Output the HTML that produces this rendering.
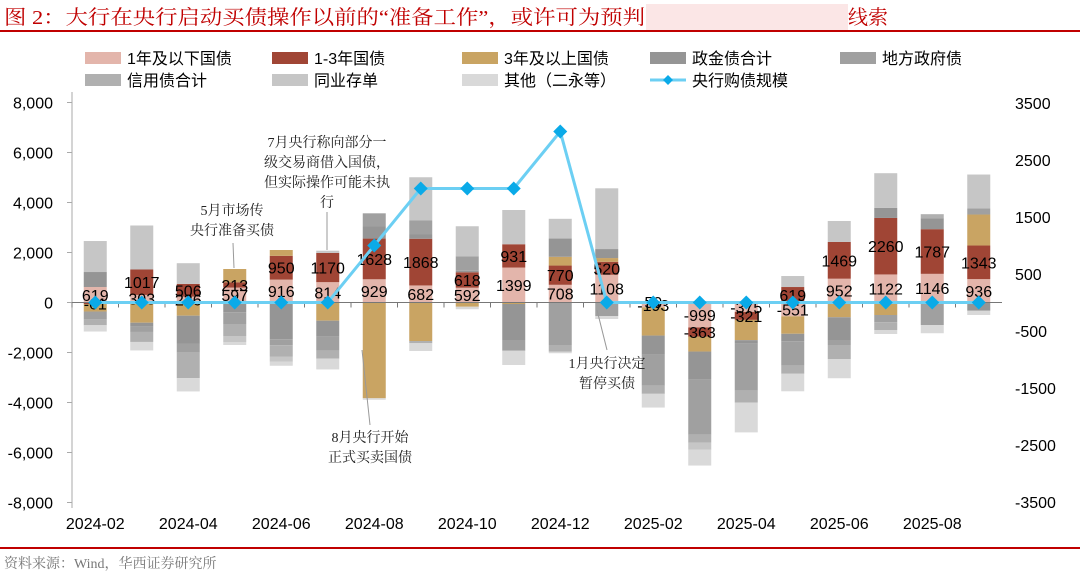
<!DOCTYPE html>
<html><head><meta charset="utf-8"><style>
body{margin:0;background:#fff;}
svg text{font-family:"Liberation Sans","Noto Sans CJK SC",sans-serif;}
.cn{font-family:"Liberation Serif","Noto Serif CJK SC",serif;}
</style></head><body>
<svg id="chart" width="1080" height="577" viewBox="0 0 1080 577" xmlns="http://www.w3.org/2000/svg">
<text x="4" y="24" fill="#c00000" font-size="20" class="cn" textLength="641" lengthAdjust="spacingAndGlyphs">图 2：大行在央行启动买债操作以前的“准备工作”，或许可为预判</text>
<rect x="646" y="4" width="202" height="26" fill="#fbe6e6"/>
<text x="848" y="24" fill="#c00000" font-size="20" class="cn">线索</text>
<line x1="0" y1="31" x2="1080" y2="31" stroke="#c00000" stroke-width="2"/>
<line x1="0" y1="548" x2="1080" y2="548" stroke="#c00000" stroke-width="2"/>
<text x="4" y="568" fill="#777" font-size="14" class="cn">资料来源：Wind，华西证券研究所</text>
<g id="legend"></g>
<g id="plot"></g>
<g id="ann"></g>
</svg>
<script>
const categories=["2024-02","2024-03","2024-04","2024-05","2024-06","2024-07","2024-08","2024-09","2024-10","2024-11","2024-12","2025-01","2025-02","2025-03","2025-04","2025-05","2025-06","2025-07","2025-08","2025-09"];
const tickLabels=["2024-02","2024-04","2024-06","2024-08","2024-10","2024-12","2025-02","2025-04","2025-06","2025-08"];
const leftTicks=[8000,6000,4000,2000,0,-2000,-4000,-6000,-8000];
const rightTicks=[3500,2500,1500,500,-500,-1500,-2500,-3500];
const seriesNames=["1年及以下国债","1-3年国债","3年及以上国债","政金债合计","地方政府债","信用债合计","同业存单","其他（二永等）"];
const s1=[619,303,236,597,916,814,929,682,592,1399,708,1108,-193,-999,-375,-551,952,1122,1146,936];
const s2=[-61,1017,506,213,950,1170,1628,1868,618,931,770,520,50,-363,-321,619,1469,2260,1787,1343];
const s3=[-300,-808,-527,530,234,-727,-3830,-1540,-170,-60,350,150,-1130,-600,-810,-700,-590,-500,0,1240];
const s4=[600,-160,-1130,-390,-1470,-640,500,170,60,-1440,730,360,-770,-1100,-130,-300,-910,400,440,-330];
const s5=[-300,-210,-350,-470,-240,-550,510,560,580,-430,-1700,-540,-1240,-2230,-1890,-980,-200,-290,-900,240];
const s6=[-250,-400,-1020,-480,-450,-330,0,-90,0,0,-270,0,-320,-310,-480,-320,-560,-310,160,0];
const s7=[1240,1760,830,-240,-200,88,0,1730,1200,1370,790,2430,0,-290,0,440,840,1390,0,1360];
const s8=[-250,-340,-530,-120,-170,-430,-60,-310,-100,-570,-60,-120,-550,-630,-1190,-700,-770,-160,-330,-170];
const pbocBuy=[0,0,0,0,0,0,1000,2000,2000,2000,3000,0,0,0,0,0,0,0,0,0];
const NS="http://www.w3.org/2000/svg";
const colors=["#e3b5ab","#a04535","#c9a463","#959595","#a0a0a0","#b0b0b0","#c6c6c6","#d9d9d9"];
const series=[s1,s2,s3,s4,s5,s6,s7,s8];
const X0=72,X1=1002,Y0=302.5;
const bw=(X1-X0)/categories.length;
const xC=i=>X0+bw*(i+0.5);
const yL=v=>Y0-v*25/1000;
const yR=v=>Y0-v*57/1000;
function mk(tag,attrs,parent){const e=document.createElementNS(NS,tag);for(const k in attrs)e.setAttribute(k,attrs[k]);parent.appendChild(e);return e;}
const plot=document.getElementById('plot');
let ax=mk('line',{x1:X0,y1:92,x2:X0,y2:508,stroke:'#aaa'},plot);


leftTicks.forEach(v=>{
 let t=mk('text',{x:53,y:yL(v)+6,'text-anchor':'end','font-size':16,fill:'#000'},plot);t.textContent=v.toLocaleString('en-US');
 
 
 mk('line',{x1:X0-5,y1:yL(v),x2:X0,y2:yL(v),stroke:'#aaa'},plot);
});
rightTicks.forEach(v=>{
 let t=mk('text',{x:1015,y:yR(v)+6,'font-size':16,fill:'#000'},plot);t.textContent=v;
 
 
});
categories.forEach((c,i)=>{
 let pos=0,neg=0;
 series.forEach((s,k)=>{
  const v=s[i];if(!v)return;
  let top,bot;
  if(v>0){top=yL(pos+v);bot=yL(pos);pos+=v;}else{top=yL(neg);bot=yL(neg+v);neg+=v;}
  const r=mk('rect',{x:xC(i)-11.5,y:top,width:23,height:Math.max(bot-top,0.5),fill:colors[k]},plot);
  
  
 });
});
let zl=mk('line',{x1:X0,y1:Y0,x2:X1,y2:Y0,stroke:'#777'},plot);


categories.forEach((c,i)=>{mk('line',{x1:X0+bw*i,y1:Y0,x2:X0+bw*i,y2:Y0+5,stroke:'#777'},plot);});
categories.forEach((c,i)=>{
 [s1,s2].forEach((s,k)=>{
  const v=s[i];
  let base=0; if(k===1){base=(s1[i]>0)===(v>0)?s1[i]:0;}
  const yc=yL(base+v/2);
  const t=mk('text',{x:xC(i),y:yc+6,'text-anchor':'middle','font-size':16,fill:'#000'},plot);t.textContent=v;
  
  
 });
});
let d=pbocBuy.map((v,i)=>(i?'L':'M')+xC(i)+' '+yR(v)).join(' ');
let ln=mk('path',{d:d,fill:'none',stroke:'#6ccff3','stroke-width':3},plot);


pbocBuy.forEach((v,i)=>{
 const x=xC(i),y=yR(v);
 const p=mk('polygon',{points:`${x},${y-7} ${x+7},${y} ${x},${y+7} ${x-7},${y}`,fill:'#0aaae8'},plot);
 
 
});
tickLabels.forEach(l=>{
 const i=categories.indexOf(l);
 const t=mk('text',{x:xC(i),y:529,'text-anchor':'middle','font-size':16,fill:'#000'},plot);t.textContent=l;
 
 
});
const lg=document.getElementById('legend');
const lx=[85,272,462,650,840];
seriesNames.forEach((n,k)=>{
 const x=lx[k%5],y=k<5?58:80;
 const r=mk('rect',{x:x,y:y-6,width:36,height:12,fill:colors[k]},lg);
 
 
 const t=mk('text',{x:x+42,y:y+6,'font-size':16,fill:'#000'},lg);t.textContent=n;
 
 
});
mk('line',{x1:650,y1:80,x2:686,y2:80,stroke:'#6ccff3','stroke-width':3},lg);
mk('polygon',{points:'668,75 673,80 668,85 663,80',fill:'#0aaae8'},lg);
let lt=mk('text',{x:692,y:86,'font-size':16,fill:'#000'},lg);lt.textContent='央行购债规模';


const ann=document.getElementById('ann');
function note(lines,cx,y0,dy,l){
 lines.forEach((s,j)=>{const t=mk('text',{x:cx,y:y0+j*dy,'text-anchor':'middle','font-size':14,fill:'#222',class:'cn'},ann);t.textContent=s;
 
 });
 mk('line',{x1:l[0],y1:l[1],x2:l[2],y2:l[3],stroke:'#999'},ann);
}
note(["7月央行称向部分一","级交易商借入国债，","但实际操作可能未执","行"],327,147,20,[327,212,327,250]);
note(["5月市场传","央行准备买债"],232,215,20,[233,243,234,268]);
note(["8月央行开始","正式买卖国债"],370,442,20,[362,350,370,425]);
note(["1月央行决定","暂停买债"],607,368,20,[597,310,607,350]);
</script>
</body></html>
